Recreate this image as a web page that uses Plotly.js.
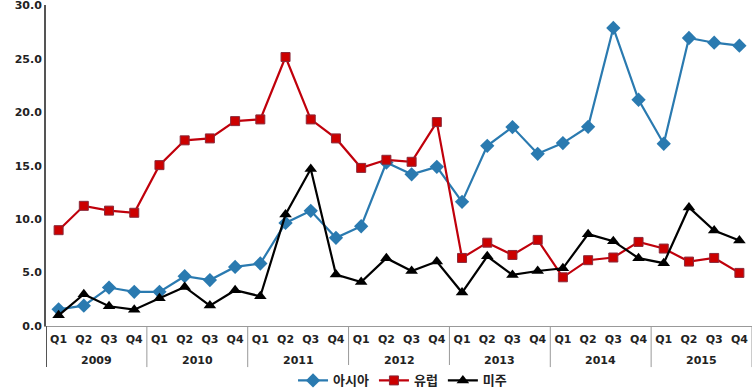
<!DOCTYPE html>
<html><head><meta charset="utf-8">
<script src="https://cdn.plot.ly/plotly-3.0.1.min.js"></script>
<style>body{margin:0;background:#fff}#c{width:756px;height:389px}</style>
</head><body><div id="c"></div>
<script>
const years = ["2009","2010","2011","2012","2013","2014","2015"];
const quarters = ["Q1","Q2","Q3","Q4"];
const asia = [1.56,1.9,3.6,3.2, 3.2,4.66,4.3,5.53, 5.85,9.65,10.78,8.25, 9.34,15.3,14.2,14.9, 11.62,16.87,18.62,16.12, 17.12,18.65,27.9,21.18, 17.06,26.96,26.52,26.24];
const europe = [8.97,11.25,10.8,10.6, 15.06,17.38,17.56,19.18, 19.34,25.18,19.34,17.56, 14.8,15.56,15.37,19.09, 6.37,7.8,6.65,8.06, 4.56,6.16,6.41,7.87, 7.25,6.03,6.37,4.97];
const americas = [1.0,2.97,1.85,1.53, 2.6,3.66,1.91,3.35, 2.78,10.44,14.7,4.82, 4.12,6.35,5.15,6.03, 3.13,6.53,4.78,5.15, 5.4,8.6,7.94,6.35, 5.88,11.1,8.94,8.0];
const names = ["아시아","유럽","미주"];

// category positions (index per quarter) and labels
const xIdx = [], qText = [];
years.forEach(y => quarters.forEach(q => { xIdx.push(xIdx.length); qText.push(q); }));
const nQ = quarters.length;

const traces = [
  {x: xIdx, y: asia, name: names[0], type:'scatter', mode:'lines+markers',
   line:{color:'#2a7ab0', width:2.2}, marker:{symbol:'diamond', size:11, color:'#2a7ab0'}},
  {x: xIdx, y: europe, name: names[1], type:'scatter', mode:'lines+markers',
   line:{color:'#c0000b', width:2.2}, marker:{symbol:'square', size:9, color:'#cc0000', line:{color:'#8a2a3a', width:1}}},
  {x: xIdx, y: americas, name: names[2], type:'scatter', mode:'lines+markers',
   line:{color:'#000000', width:2.2}, marker:{symbol:'triangle-up', size:11, color:'#000000'}}
];

// year group labels and dividers
const annotations = years.map((y, i) => ({
  x: i*nQ + (nQ-1)/2, xref:'x', y:-0.108, yref:'paper', yanchor:'middle',
  text: y, showarrow:false,
  font:{family:'DejaVu Sans', size:11, color:'#222', weight:'bold'}
}));
const shapes = [];
for (let i = 0; i <= years.length; i++) {
  shapes.push({type:'line', xref:'x', yref:'paper', x0:i*nQ-0.5, x1:i*nQ-0.5, y0:0, y1:-0.128,
    line:{color: i === 0 ? '#555' : '#999', width: i === 0 ? 2 : 1}});
}

const layout = {
  width:756, height:389,
  margin:{l:46, r:4, t:5, b:63},
  paper_bgcolor:'#fff', plot_bgcolor:'#fff',
  font:{family:'DejaVu Sans', size:11, color:'#222'},
  showlegend:true,
  legend:{orientation:'h', x:0.505, xanchor:'center', yref:'container', y:0.022, yanchor:'middle',
    font:{family:'Noto Sans CJK KR', size:13, color:'#222', weight:'bold'}, itemwidth:30, tracegroupgap:0},
  annotations, shapes,
  xaxis:{range:[-0.5, xIdx.length-0.5], autorange:false, automargin:false, showgrid:false, zeroline:false,
    showline:true, linecolor:'#999', linewidth:1, tickangle:0, ticklabelstandoff:3,
    tickvals:xIdx, ticktext:qText, ticks:'',
    tickfont:{family:'DejaVu Sans', size:11, color:'#222', weight:'bold'}},
  yaxis:{range:[0,30.05], autorange:false, automargin:false, tickvals:[0,5,10,15,20,25,30], tickformat:'.1f', showgrid:false, zeroline:false,
    showline:true, linecolor:'#555', linewidth:2, ticks:'', ticklabeloverflow:'allow',
    tickfont:{family:'DejaVu Sans', size:11, color:'#222', weight:'bold'}}
};
Plotly.newPlot('c', traces, layout, {displayModeBar:false, staticPlot:true});
</script></body></html>
